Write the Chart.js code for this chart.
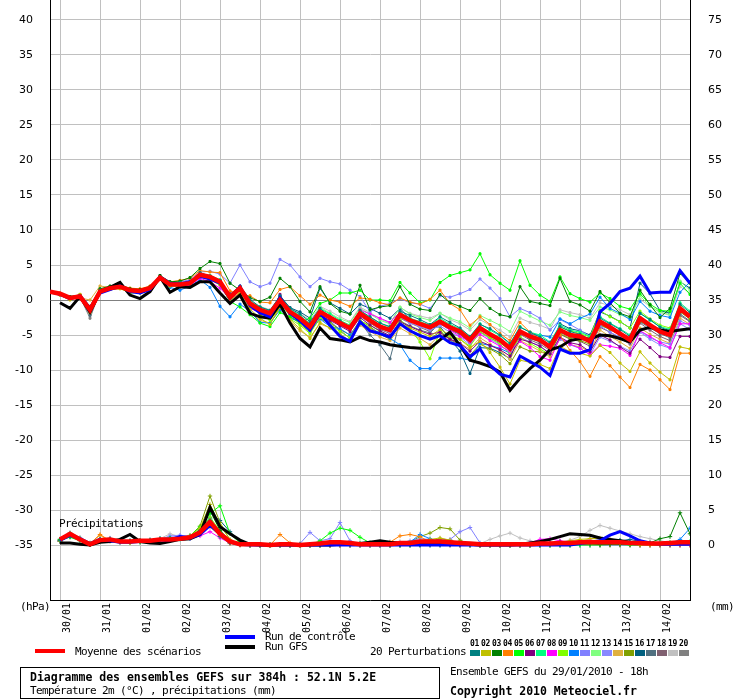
<!DOCTYPE html>
<html>
<head>
<meta charset="utf-8">
<script src="https://cdn.jsdelivr.net/npm/chart.js@4.4.0/dist/chart.umd.min.js"></script>
<style>
  body { margin: 0; background: #fff; }
  #wrap { position: relative; width: 740px; height: 700px; overflow: hidden; }
  #chart { position: absolute; left: 0; top: 0; }
  .t { position: absolute; font-family: "DejaVu Sans Mono", monospace; font-size: 11px; line-height: 12px;
       letter-spacing: -0.62px; white-space: nowrap; color: #000; }
  .b { font-weight: bold; font-size: 11.5px; letter-spacing: 0; }
  .ln { position: absolute; height: 4px; width: 30px; }
  .sw { position: absolute; top: 650px; width: 10px; height: 6px; }
  .sn { position: absolute; top: 640px; font-family: "DejaVu Sans Mono", monospace; font-size: 8px;
        font-weight: bold; line-height: 8px; letter-spacing: -0.3px; }
  #box { position: absolute; left: 20px; top: 667px; width: 418px; height: 30px; border: 1px solid #000; }
</style>
</head>
<body>
<div id="wrap">
  <canvas id="chart" width="740" height="640"></canvas>
  <div class="t" style="left:59px;top:518px">Précipitations</div>
  <div class="t" style="left:20px;top:601px">(hPa)</div>
  <div class="t" style="left:710px;top:601px">(mm)</div>

  <div class="ln" style="left:35px;top:649px;background:#ff0000"></div>
  <div class="t" style="left:75px;top:646px">Moyenne des scénarios</div>
  <div class="ln" style="left:225px;top:635px;background:#0000ff"></div>
  <div class="t" style="left:265px;top:631px">Run de contrôle</div>
  <div class="ln" style="left:225px;top:645px;background:#000000"></div>
  <div class="t" style="left:265px;top:641px">Run GFS</div>
  <div class="t" style="left:370px;top:646px">20 Perturbations</div>
  <div id="swatches"></div>

  <div id="box"></div>
  <div class="t b" style="left:30px;top:671px">Diagramme des ensembles GEFS sur 384h : 52.1N 5.2E</div>
  <div class="t" style="left:30px;top:685px">Température 2m (°C) , précipitations (mm)</div>
  <div class="t" style="left:450px;top:666px">Ensemble GEFS du 29/01/2010 - 18h</div>
  <div class="t b" style="left:450px;top:685px">Copyright 2010 Meteociel.fr</div>
</div>
<script>
// --- axis setup ---
const stepHours = 6;          // one value every 6h, 65 steps = 384h
const firstDayHour = 6;       // 30/01 00h is 6h after the run start
const dayLabels = ['30/01','31/01','01/02','02/02','03/02','04/02','05/02','06/02',
                   '07/02','08/02','09/02','10/02','11/02','12/02','13/02','14/02'];
const tempTicks = [-35,-30,-25,-20,-15,-10,-5,0,5,10,15,20,25,30,35,40];
const rainTicks = [0,5,10,15,20,25,30,35,40,45,50,55,60,65,70,75];
const rainOffset = 35;        // right axis 0 sits on left axis -35

// --- temperature 2m (°C) ---
const tempMean = [1.2,0.9,0.3,0.5,-1.4,1.2,1.7,1.9,1.4,1.3,1.7,3.2,2.2,2.2,2.4,3.6,
  3.3,2.6,0.4,1.7,-0.5,-1.4,-1.9,0.0,-1.7,-2.6,-3.8,-1.7,-2.5,-3.3,-4.0,-1.9,
  -2.9,-3.8,-4.3,-2.1,-2.9,-3.4,-3.9,-3.1,-3.9,-4.5,-5.7,-4.0,-4.9,-5.7,-6.9,-4.5,
  -5.2,-5.7,-6.7,-4.3,-5.0,-5.2,-5.9,-3.1,-3.9,-4.8,-5.7,-2.6,-3.6,-4.5,-5.0,-1.2,-2.4];
const tempControl = [1.2,0.8,0.2,0.6,-1.2,1.0,1.5,2.0,1.2,1.0,1.5,3.3,2.4,2.3,2.6,3.4,
  3.0,2.4,0.2,1.9,-0.8,-1.8,-2.4,0.3,-1.9,-3.0,-4.3,-1.9,-3.6,-5.2,-5.9,-3.1,
  -4.4,-4.8,-5.3,-3.4,-4.4,-5.1,-5.6,-5.1,-6.1,-6.5,-8.1,-7.0,-9.3,-10.6,-11.0,-8.0,
  -8.8,-9.6,-10.8,-7.0,-7.6,-7.6,-7.1,-1.7,-0.5,1.2,1.7,3.4,1.0,1.1,1.1,4.2,2.4];
const tempGfs = [null,-0.4,-1.2,0.5,-1.7,1.2,1.8,2.5,0.7,0.2,1.2,3.3,1.1,1.9,1.8,2.6,
  2.6,1.0,-0.5,0.7,-1.9,-2.4,-2.6,-0.6,-3.3,-5.5,-6.7,-4.0,-5.5,-5.7,-6.0,-5.3,
  -5.8,-6.0,-6.4,-6.6,-6.8,-6.9,-6.9,-5.7,-4.6,-6.5,-8.6,-9.0,-9.5,-10.3,-12.9,-11.2,
  -9.8,-8.6,-7.1,-6.7,-5.8,-5.5,-5.6,-5.0,-5.1,-5.5,-6.0,-4.3,-3.9,-4.3,-4.5,-4.3,-4.1];

const t01 = [1.2,0.8,0.4,0.6,-1.0,1.4,1.8,2.0,1.2,1.0,1.6,3.3,2.4,2.5,2.6,3.9,
  3.4,2.8,0.8,2.0,0.1,-1.0,-1.5,0.6,-1.2,-2.0,-3.1,-1.2,-2.4,-3.0,-3.9,-1.5,
  -2.4,-3.3,-3.8,-1.6,-2.2,-2.8,-3.5,-2.4,-3.2,-4.0,-5.2,-3.5,-4.1,-5.0,-6.2,-3.9,
  -4.6,-5.3,-6.1,-3.8,-4.5,-4.9,-5.6,-2.6,-3.4,-4.2,-5.2,-1.9,-2.8,-3.9,-4.4,-0.6,-1.8];
const t02 = [1.2,0.7,0.0,0.8,-1.8,1.0,1.5,1.6,1.1,1.2,1.5,3.0,2.0,2.1,2.5,3.7,
  3.1,2.2,-0.1,1.1,-1.3,-2.6,-3.5,-1.0,-2.8,-4.1,-5.5,-3.2,-4.0,-5.0,-5.8,-3.2,
  -4.0,-4.8,-5.4,-3.3,-4.0,-4.6,-5.2,-4.2,-5.0,-5.6,-6.8,-5.9,-7.5,-9.6,-12.0,-8.6,
  -8.9,-9.2,-9.8,-6.6,-7.4,-7.6,-8.0,-6.5,-7.5,-9.0,-10.2,-7.4,-9.0,-10.3,-11.4,-6.7,-7.0];
const t03 = [1.2,0.9,0.5,0.7,-0.9,1.6,2.0,2.2,1.6,1.5,1.9,3.5,2.6,2.7,3.2,4.5,
  5.5,5.2,2.4,1.4,0.3,-0.2,0.4,3.1,1.9,-0.2,-1.7,1.9,-0.5,-1.6,-2.0,2.1,
  -1.4,-1.0,-0.8,1.9,-0.6,-1.3,-1.5,0.8,-0.4,-0.9,-1.5,0.2,-1.2,-2.1,-2.4,1.9,
  -0.2,-0.5,-0.8,3.1,-0.2,-0.7,-1.6,1.2,-0.4,-1.9,-2.4,1.4,-0.7,-2.5,-1.2,3.8,2.4];
const t04 = [1.2,1.0,0.4,0.8,-1.1,1.5,1.9,2.1,1.7,1.6,2.0,3.4,2.6,2.8,3.1,4.2,
  4.0,3.9,1.3,0.7,0.6,-0.3,-0.4,1.5,1.9,0.6,-0.6,0.7,0.0,-0.3,-0.9,0.3,
  0.1,-0.4,-0.7,0.3,-0.3,-0.6,0.1,1.4,-0.5,-1.4,-3.6,-2.4,-3.5,-4.8,-5.8,-3.2,
  -4.6,-5.5,-6.6,-5.0,-7.2,-8.8,-10.9,-8.1,-9.4,-11.0,-12.5,-9.2,-10.0,-11.4,-12.8,-7.6,-7.6];
const t05 = [1.2,0.9,0.2,0.6,-1.5,1.2,1.6,1.7,1.0,1.1,1.5,3.1,2.0,2.0,2.3,3.4,
  3.0,2.2,-0.2,-1.0,-2.1,-3.3,-3.8,-1.8,-2.4,-3.2,-2.6,-0.5,0.0,1.0,1.0,1.4,
  0.0,0.0,-0.1,2.5,1.0,-0.4,0.0,2.5,3.5,3.9,4.3,6.6,3.6,2.4,1.4,5.6,
  2.1,0.7,-0.2,3.3,0.9,0.2,-0.3,1.0,0.2,-0.9,-1.3,0.9,-0.6,-1.5,-1.6,2.4,0.8];
const t06 = [1.2,0.8,0.3,0.4,-1.5,1.1,1.6,1.8,1.2,1.2,1.6,3.1,2.2,2.1,2.2,3.3,
  3.0,2.7,0.9,1.3,-1.0,-1.9,-2.1,0.8,-1.9,-2.9,-4.1,-2.2,-2.9,-3.7,-4.5,-2.5,
  -3.6,-4.4,-5.1,-3.1,-3.8,-4.4,-4.9,-4.6,-5.6,-6.2,-7.3,-5.9,-6.5,-7.1,-8.0,-5.6,
  -6.0,-6.6,-7.7,-5.3,-6.1,-6.4,-7.4,-5.0,-5.7,-6.7,-7.6,-5.6,-6.8,-8.1,-8.2,-5.2,-5.2];
const t07 = [1.2,0.9,0.4,0.5,-1.2,1.3,1.8,1.9,1.5,1.4,1.8,3.3,2.3,2.3,2.6,3.8,
  3.5,2.9,0.6,1.9,-0.2,-1.0,-1.5,0.4,-1.3,-2.2,-3.4,-1.2,-2.0,-2.9,-3.6,-1.5,
  -2.5,-3.3,-3.9,-1.8,-2.6,-3.1,-3.6,-2.6,-3.5,-4.1,-5.2,-3.4,-4.3,-5.1,-6.3,-3.8,
  -4.6,-5.0,-6.0,-3.6,-4.3,-4.6,-5.2,-2.4,-3.3,-4.1,-5.0,-1.9,-2.9,-3.8,-4.2,-0.4,-1.6];
const t08 = [1.2,0.8,0.2,0.5,-1.6,1.0,1.6,1.8,1.3,1.2,1.6,3.1,2.1,2.0,2.1,3.1,
  2.6,1.7,0.2,0.9,-1.2,-1.8,-2.5,-0.3,-2.0,-2.9,-4.1,-1.6,-2.5,-3.0,-3.9,-1.4,
  -2.0,-2.6,-3.2,-1.7,-2.8,-3.5,-3.8,-3.3,-4.3,-5.2,-6.0,-4.9,-5.8,-6.6,-7.3,-5.9,
  -6.8,-8.1,-8.6,-5.4,-6.3,-6.9,-7.8,-6.4,-6.6,-6.9,-7.9,-4.4,-5.2,-6.1,-6.8,-3.4,-3.4];
const t09 = [1.2,0.9,0.3,0.5,-1.3,1.2,1.7,1.9,1.4,1.3,1.7,3.4,2.2,2.2,2.4,3.5,
  3.2,2.4,0.2,1.6,-0.7,-2.1,-2.9,-1.0,-2.7,-3.6,-4.8,-2.5,-3.5,-4.5,-5.4,-3.0,
  -3.6,-4.5,-5.3,-2.8,-4.1,-6.0,-8.4,-4.4,-5.4,-5.6,-6.6,-4.6,-5.4,-6.3,-7.6,-5.3,
  -6.2,-7.0,-7.8,-3.9,-4.4,-4.8,-5.3,-1.5,-2.4,-3.1,-4.0,-1.6,-2.7,-3.6,-4.0,-0.8,-2.2];
const t10 = [1.2,0.9,0.2,0.6,-1.6,1.1,1.6,1.8,1.3,1.2,1.7,3.0,1.8,1.4,2.0,2.9,
  1.8,-0.9,-2.4,-0.6,-1.6,-3.2,-3.3,-1.4,-2.6,-3.1,-4.4,-2.7,-3.8,-4.1,-5.0,-3.4,
  -4.0,-4.7,-5.5,-6.4,-8.6,-9.8,-9.8,-8.3,-8.3,-8.3,-8.6,-6.2,-6.5,-6.9,-7.6,-4.8,
  -4.9,-5.0,-5.3,-2.7,-3.4,-2.6,-2.0,0.4,-1.2,-1.9,-2.8,-0.2,-1.6,-2.2,-2.5,1.1,2.6];
const t11 = [1.2,1.0,0.5,0.7,-1.2,1.4,1.9,2.0,1.6,1.5,1.9,3.5,2.5,2.6,2.9,4.0,
  4.1,3.7,2.4,5.0,2.6,1.9,2.4,5.8,5.0,3.3,1.9,3.1,2.6,2.3,1.4,0.5,
  -1.7,-0.9,-0.5,0.2,-0.4,-0.6,-1.2,0.6,0.4,0.9,1.5,3.0,1.7,0.2,-2.4,-1.2,
  -1.8,-2.6,-4.3,-2.8,-3.5,-4.3,-5.2,-3.7,-4.6,-5.3,-6.1,-4.4,-5.4,-6.0,-6.3,-3.0,-3.6];
const t12 = [1.2,0.9,0.5,0.6,-1.1,1.4,1.8,2.0,1.5,1.4,1.8,3.3,2.4,2.4,2.6,3.7,
  3.4,2.7,0.6,1.7,-0.3,-1.1,-1.6,0.3,-1.5,-2.3,-3.4,-1.0,-1.9,-2.7,-3.2,-1.2,
  -2.0,-2.9,-3.4,-1.0,-2.0,-2.5,-2.9,-1.9,-2.6,-3.1,-4.0,-2.2,-2.9,-3.6,-4.5,-1.6,
  -2.3,-3.0,-3.6,-1.7,-2.2,-2.5,-2.9,-1.0,-1.4,-2.1,-2.6,0.6,-0.9,-1.7,-2.1,2.7,1.4];
const t13 = [1.2,0.8,0.3,0.4,-1.3,1.1,1.6,1.8,1.4,1.3,1.7,3.2,2.2,2.3,2.4,3.6,
  3.4,2.6,0.6,1.8,-0.4,-1.3,-1.8,0.3,-1.6,-2.7,-3.8,-1.9,-2.6,-3.6,-4.3,-2.1,
  -3.1,-4.0,-4.6,-2.5,-3.3,-3.8,-4.3,-3.7,-4.6,-5.3,-6.4,-4.6,-5.6,-6.4,-7.6,-5.3,
  -6.0,-6.6,-7.6,-5.6,-6.4,-6.9,-7.8,-5.3,-5.9,-6.6,-7.3,-4.6,-5.6,-6.4,-6.9,-3.4,-4.2];
const t14 = [1.2,0.9,0.1,0.3,0.0,2.0,1.8,1.9,1.3,1.1,1.5,3.1,2.1,2.0,2.2,3.4,
  2.9,2.1,-0.1,1.0,-1.8,-2.9,-3.3,-1.1,-3.0,-4.4,-5.3,-3.4,-4.0,-4.8,-5.9,-3.6,
  -4.5,-5.3,-5.8,-4.0,-4.8,-5.5,-6.4,-4.9,-5.6,-6.2,-7.0,-5.4,-6.3,-7.2,-8.5,-5.8,
  -6.5,-7.3,-8.1,-5.6,-6.4,-6.7,-7.4,-4.3,-5.2,-6.0,-6.9,-4.0,-4.9,-5.6,-6.2,-2.6,-3.5];
const t15 = [1.2,0.9,0.3,0.5,-1.4,1.2,1.6,1.8,1.5,1.4,1.6,3.1,2.2,2.1,2.3,3.5,
  3.3,2.5,0.3,1.5,-0.8,-1.8,-2.4,-0.3,-2.3,-3.4,-4.6,-2.7,-3.3,-4.2,-5.0,-2.9,
  -3.8,-4.9,-5.6,-3.4,-4.3,-5.0,-5.5,-4.6,-5.6,-6.5,-7.9,-6.3,-7.0,-7.8,-9.1,-6.7,
  -7.3,-7.4,-7.6,-4.8,-5.5,-5.8,-6.3,-3.6,-4.2,-5.0,-5.7,-3.0,-3.8,-4.6,-5.1,-1.7,-2.7];
const t16 = [1.2,0.8,0.2,0.5,-1.4,1.1,1.7,1.9,1.4,1.3,1.6,3.3,2.3,2.4,2.5,3.7,
  3.4,2.8,0.7,1.9,-0.4,-1.3,-1.7,0.6,-1.1,-1.7,-2.6,1.7,-0.4,-1.2,-2.0,-0.6,
  -1.2,-1.9,-2.6,-1.2,-2.7,-3.4,-4.0,-3.8,-5.6,-7.3,-10.5,-6.8,-6.9,-7.5,-8.4,-4.7,
  -5.2,-5.9,-6.6,-3.4,-4.1,-4.4,-5.0,-1.7,-2.3,-3.1,-4.0,2.4,0.9,-1.5,-1.9,2.6,1.7];
const t17 = [1.2,0.7,0.1,0.4,-2.2,1.0,1.5,1.7,1.2,1.1,1.5,3.0,2.0,2.0,2.1,3.4,
  3.1,2.3,0.1,1.4,-0.9,-1.8,-2.2,-0.2,-2.1,-3.0,-4.2,-2.2,-3.0,-4.3,-5.5,-3.2,
  -5.0,-6.4,-8.4,-3.0,-3.7,-4.3,-4.7,-3.3,-4.1,-4.9,-6.1,-4.2,-5.0,-5.8,-7.1,-4.7,
  -5.5,-6.0,-7.0,-4.6,-5.3,-5.4,-6.1,-3.5,-4.2,-5.0,-5.9,-3.1,-4.0,-4.8,-5.4,-2.0,-3.0];
const t18 = [1.2,0.8,0.2,0.4,-1.5,1.1,1.6,1.8,1.3,1.2,1.6,3.1,2.1,2.1,2.3,3.5,
  3.2,2.5,0.3,1.6,-0.7,-1.6,-2.2,-0.2,-2.0,-2.9,-4.0,-2.0,-2.7,-3.4,-4.2,-2.3,
  -3.3,-4.2,-4.8,-2.6,-3.3,-3.9,-4.5,-3.4,-4.3,-4.9,-6.2,-4.5,-5.4,-6.1,-7.2,-4.9,
  -5.7,-6.3,-7.2,-4.9,-5.6,-5.9,-6.6,-3.9,-4.6,-5.5,-6.3,-3.3,-4.3,-5.2,-5.8,-2.2,-3.1];
const t19 = [1.2,1.0,0.4,0.5,-1.3,1.3,1.8,2.0,1.5,1.5,1.9,3.4,2.4,2.4,2.6,3.8,
  3.5,2.8,0.7,2.0,-0.1,-0.9,-1.4,0.5,-1.1,-1.9,-2.9,-0.9,-1.6,-2.4,-3.1,-1.0,
  -1.8,-2.7,-3.3,-1.1,-1.9,-2.3,-2.6,-1.9,-2.8,-3.4,-4.3,-2.8,-3.6,-4.3,-5.3,-2.6,
  -3.2,-3.6,-4.2,-1.4,-1.8,-2.1,-2.6,-0.4,-0.8,-1.4,-2.1,0.1,-0.9,-1.8,-2.2,1.9,1.0];
const t20 = [1.2,0.9,0.3,0.4,-2.6,1.2,1.7,1.9,1.4,1.3,1.7,3.2,2.2,2.3,2.4,3.5,
  3.3,2.7,0.5,1.7,-0.6,-1.5,-2.0,-0.1,-1.8,-2.7,-3.9,-1.8,-2.6,-3.4,-4.1,-1.9,
  -2.9,-3.7,-4.2,-2.2,-3.0,-3.6,-4.2,-3.2,-4.0,-4.6,-5.8,-4.1,-5.0,-5.8,-7.0,-4.4,
  -5.2,-5.6,-6.5,-4.2,-4.9,-5.1,-5.8,-3.0,-3.8,-4.6,-5.5,-2.5,-3.5,-4.3,-4.8,-1.0,-2.2];

// --- precipitation (mm / 6h) ---
const rainMean = [null,0.8,1.6,0.8,0.1,0.7,0.8,0.5,0.5,0.6,0.6,0.8,0.8,0.9,1.1,1.8,
  3.3,1.6,0.5,0.1,0.1,0.1,0.0,0.1,0.1,0.0,0.1,0.2,0.4,0.4,0.3,0.1,
  0.1,0.1,0.1,0.3,0.3,0.5,0.5,0.5,0.4,0.3,0.2,0.1,0.1,0.1,0.1,0.1,
  0.1,0.2,0.2,0.3,0.3,0.4,0.4,0.4,0.4,0.4,0.3,0.3,0.2,0.2,0.3,0.4,0.4];
const rainControl = [null,0.7,1.4,0.9,0.2,0.8,0.6,0.4,0.4,0.5,0.6,0.7,0.7,1.2,1.0,1.5,
  2.8,1.6,0.4,0.1,0,0,0,0,0,0,0,0,0,0,0,0,
  0,0,0,0,0,0,0,0,0,0,0,0,0,0,0,0,
  0,0,0,0,0,0.2,0.4,0.6,1.4,1.9,1.3,0.6,0.3,0.1,0.1,0.1,0.1];
const rainGfs = [null,0.3,0.3,0.1,0.0,0.4,0.5,0.8,1.5,0.5,0.3,0.2,0.5,0.8,0.9,1.5,
  5.4,2.6,1.6,0.7,0.1,0,0,0,0,0,0,0,0,0.1,0.1,0.2,
  0.4,0.6,0.4,0.3,0.2,0.2,0.1,0.1,0.1,0.1,0.1,0,0,0,0,0.1,
  0.3,0.5,0.8,1.2,1.6,1.5,1.4,1.0,0.8,0.6,0.4,0.3,0.2,0.2,0.3,0.4,0.4];

const r01 = [null,0.6,1.2,0.7,0.1,0.6,0.9,0.5,0.4,0.5,0.6,0.8,0.9,1.0,1.2,2.0,
  3.5,1.2,0.3,0.1,0,0,0,0,0,0,0,0.1,0.3,0.2,0,0,
  0,0,0,0,0,0,0,0,0,0,0,0,0,0,0,0,
  0,0,0.2,0.3,0.3,0.2,0.2,0.3,0.6,0.7,0.5,0.3,0.2,0.1,0.1,0.2,0.3];
const r02 = [null,0.5,1.5,0.9,0.2,0.6,0.7,0.6,0.3,0.5,0.6,0.7,0.8,1.0,1.3,2.4,
  5.8,2.8,0.8,0.1,0,0,0,0,0,0,0,0,0,0,0,0,
  0,0.1,0.2,0.2,0.4,0.6,0.8,1.0,0.7,0.2,0,0,0,0,0,0,
  0,0,0.1,0.3,0.6,0.8,0.9,0.9,0.6,0.3,0.2,0.1,0,0,0.1,0.2,0.4];
const r03 = [null,0.7,1.3,0.8,0.1,0.8,0.7,0.5,0.5,0.6,0.5,0.7,0.9,0.9,1.1,2.2,
  4.9,2.1,0.6,0.2,0,0,0,0,0,0,0,0,0,0.1,0.2,0.3,
  0.2,0.1,0,0,0,0.1,0.2,0.3,0.4,0.2,0.1,0,0,0,0,0,
  0,0,0,0.1,0.1,0.2,0.2,0.1,0.1,0.1,0.1,0.2,0.3,0.9,1.2,4.6,1.6];
const r04 = [null,0.6,1.4,0.8,0.2,1.5,0.6,0.5,0.4,0.5,0.5,0.8,0.7,0.9,1.2,1.7,
  2.6,1.3,0.2,0,0,0,0,1.5,0.3,0,0,0,0,0,0,0.1,
  0.2,0.3,0.4,1.3,1.5,1.2,0.4,0.2,0.1,0,0,0,0,0,0,0,
  0,0,0.1,0.2,0.3,0.3,0.2,0.2,0.1,0.1,0.1,0,0,0,0,0,0];
const r05 = [null,0.8,1.1,0.6,0.1,0.5,0.8,0.6,0.5,0.4,0.6,0.7,0.9,1.1,1.3,2.6,
  4.5,5.6,1.6,0.3,0,0,0,0,0,0,0,0.6,1.7,2.4,2.1,1.1,
  0.3,0.1,0,0,0,0.1,0.3,0.4,0.2,0.1,0,0,0,0,0,0,
  0,0,0,0,0,0.1,0.1,0.1,0.1,0.1,0,0,0.1,0.2,0.3,0.3,0.3];
const r06 = [null,0.5,1.5,0.7,0.1,0.6,0.7,0.4,0.5,0.6,0.6,0.8,0.7,0.9,1.0,1.6,
  3.0,1.6,0.4,0.1,0,0,0,0,0,0,0,0,0,0,0,0,
  0,0,0,0.1,0.2,0.3,0.3,0.2,0.1,0,0,0,0,0,0,0,
  0,0.1,0.3,0.5,0.4,0.3,0.2,0.1,0.1,0.1,0.1,0,0,0,0,0.1,0.1];
const r07 = [null,0.7,1.7,0.9,0.2,0.7,0.8,0.4,0.6,0.5,0.7,0.9,1.0,0.8,1.1,1.9,
  3.6,1.9,0.5,0.1,0,0,0,0,0,0,0,0,0.1,0.2,0.1,0,
  0,0,0,0,0,0,0,0,0.1,0.2,0.1,0,0,0,0,0,
  0,0,0,0,0,0,0.1,0.2,0.2,0.2,0.2,0.2,0.2,0.2,0.3,0.4,0.5];
const r08 = [null,0.6,1.3,0.8,0.1,0.6,0.9,0.6,0.5,0.5,0.6,0.6,0.8,0.9,1.0,1.3,
  1.9,1.0,0.3,0,0,0,0,0,0,0,0,0,0,0,0,0,
  0,0,0,0,0,0,0,0,0,0,0,0,0,0,0,0,
  0.3,0.8,0.9,0.6,0.4,0.6,0.7,0.5,0.3,0.2,0.1,0,0,0,0,0,0];
const r09 = [null,0.7,1.5,0.8,0.1,0.7,0.7,0.5,0.4,0.6,0.6,0.7,0.8,1.0,1.2,2.1,
  4.0,2.0,0.5,0.1,0,0,0,0,0,0,0,0,0,0,0,0,
  0,0,0,0,0,0,0.2,0.3,0.2,0.1,0,0,0,0,0,0,
  0,0,0,0,0,0,0,0,0.1,0.2,0.2,0.2,0.1,0.1,0.1,0.2,0.2];
const r10 = [null,0.5,1.2,0.7,0.1,0.8,0.6,0.4,0.5,0.5,0.7,0.9,1.0,1.1,0.9,1.8,
  3.2,1.5,0.3,0.1,0,0,0,0,0,0,0,0,0,0,0,0,
  0,0,0,0.1,0.4,1.5,0.9,0.4,0.2,0,0,0,0,0,0,0,
  0,0,0,0,0,0,0,0,0.1,0.3,0.4,0.3,0.2,0.1,0.2,0.8,2.4];
const r11 = [null,0.6,1.6,1.0,0.2,0.7,0.6,0.5,0.6,0.6,0.7,0.8,1.1,1.3,1.3,2.0,
  3.7,1.8,0.4,0.1,0,0,0,0,0,0.2,1.8,0.6,0.9,3.2,0.6,0.1,
  0,0,0,0,0,0,0,0,0.8,1.9,2.5,0.3,0,0,0,0,
  0,0,0,0,0,0,0,0,0,0,0,0,0,0,0,0,0];
const r12 = [null,0.7,1.4,0.9,0.2,0.6,0.8,0.5,0.5,0.6,0.6,0.8,0.9,1.0,1.2,1.8,
  3.0,1.5,0.4,0.1,0,0,0,0,0,0,0,0,0,0,0,0,
  0,0,0,0,0,0,0,0,0,0,0,0,0,0,0,0,
  0,0,0,0,0,0,0,0,0,0,0,0.1,0.2,0.3,0.4,0.4,0.5];
const r13 = [null,0.6,1.3,0.8,0.1,0.6,0.8,0.7,0.5,0.5,0.6,0.8,1.3,1.4,1.2,2.0,
  3.4,1.3,0.3,0,0,0,0,0,0,0,0,0,0,0,0,0,
  0,0,0,0.3,0.6,0.9,0.8,0.5,0.1,0,0,0,0,0,0,0,
  0,0,0.1,0.2,0.3,0.3,0.3,0.2,0.2,0.1,0,0,0,0,0,0,0];
const r14 = [null,0.6,1.2,0.8,0.2,1.4,0.5,0.4,0.5,0.5,0.6,0.7,0.8,0.9,1.0,1.5,
  2.8,1.4,0.3,0,0,0,0,0,0,0,0,0,0,0,0,0,
  0,0,0,0,0,0,0,0,0,0,0,0,0,0,0,0,
  0,0,0.1,0.2,0.3,0.5,0.9,1.0,0.9,0.6,0.3,0.1,0.1,0.1,0.1,0,0];
const r15 = [null,0.7,1.4,0.8,0.2,0.6,0.7,0.5,0.4,0.5,0.6,0.7,0.8,1.0,1.3,2.7,
  7.0,3.2,0.7,0.1,0,0,0,0,0,0,0,0,0,0,0,0,
  0,0,0,0,0.4,1.2,1.7,2.5,2.3,0.7,0.1,0,0,0,0,0,
  0,0,0,0,0,0,0,0,0,0,0,0,0,0,0,0,0];
const r16 = [null,0.6,1.3,0.9,0.1,0.7,0.7,0.5,0.5,0.6,0.6,0.7,0.8,0.9,1.1,2.2,
  4.6,3.5,1.9,0.5,0.1,0,0,0,0,0,0,0,0,0,0,0,
  0,0,0,0,0,0,0,0,0,0,0,0,0,0,0,0,
  0,0,0,0,0,0,0,0,0.3,0.6,0.8,0.5,0.3,0.2,0.1,0.1,0.2];
const r17 = [null,0.5,1.4,0.8,0.1,0.7,0.6,0.5,0.6,0.4,0.6,0.8,0.8,0.9,1.1,1.9,
  3.9,1.7,0.4,0.1,0,0,0,0,0,0,0,0,0,0,0,0.1,
  0.3,0.2,0.1,0,0.1,0.4,0.6,0.7,0.5,0.3,0.1,0,0,0,0,0,
  0,0,0,0,0,0,0,0,0,0,0,0,0,0,0,0,0];
const r18 = [null,0.6,1.5,0.9,0.2,0.6,0.6,0.6,0.5,0.5,0.7,0.9,1.0,1.0,1.2,2.0,
  3.8,1.5,0.4,0.1,0,0,0,0,0,0,0,0,0,0,0,0,
  0,0,0,0,0.2,0.3,0.5,0.9,0.7,0.2,0,0,0,0,0,0,
  0,0,0,0,0,0,0,0,0,0,0,0,0,0,0,0,0];
const r19 = [null,0.9,1.8,1.1,0.3,0.9,1.0,0.6,0.5,0.6,0.8,0.9,1.6,1.2,1.4,1.6,
  3.1,1.2,0.3,0,0,0,0,0,0,0,0,0,0,0,0,0.1,
  0.3,0.4,0.5,0.5,0.4,0.3,0.2,0.1,0,0,0,0.2,0.8,1.3,1.7,1.0,
  0.6,0.3,0.2,0.4,0.7,1.2,2.1,2.8,2.4,2.0,1.6,1.2,0.9,0.6,0.4,0.3,0.2];
const r20 = [null,0.8,1.7,1.0,0.3,0.8,0.9,0.6,0.6,0.6,0.7,0.9,1.0,1.1,1.2,1.9,
  3.3,1.4,0.4,0.1,0,0,0,0,0,0,0,0,0,0,0,0,
  0,0,0,0,0,0,0,0,0,0,0,0,0,0,0,0,
  0,0,0.1,0.2,0.3,0.3,0.2,0.2,0.2,0.2,0.2,0.2,0.2,0.2,0.2,0.2,0.2];

const memberColors = ['#008080','#c0c000','#008000','#ff8000','#00ff00','#800080','#00ff80',
  '#ff00ff','#80ff00','#0080ff','#8080ff','#80ff80','#8888ff','#e0b040','#80a000',
  '#006080','#507080','#806070','#c0c0c0','#808080'];
const tempMembers = [t01,t02,t03,t04,t05,t06,t07,t08,t09,t10,t11,t12,t13,t14,t15,t16,t17,t18,t19,t20];
const rainMembers = [r01,r02,r03,r04,r05,r06,r07,r08,r09,r10,r11,r12,r13,r14,r15,r16,r17,r18,r19,r20];

// legend swatches
const sw = document.getElementById('swatches');
memberColors.forEach((c, i) => {
    const x = 470 + i * 11;
    const num = String(i + 1).padStart(2, '0');
    sw.insertAdjacentHTML('beforeend',
        `<div class="sw" style="left:${x}px;background:${c}"></div>` +
        `<div class="sn" style="left:${x}px">${num}</div>`);
});

function toXY(arr) {
    return arr.map((v, i) => ({ x: i * stepHours, y: v }));
}

function lineSet(arr, color, axis, width, order, marker) {
    return {
        data: toXY(arr),
        yAxisID: axis,
        borderColor: color,
        backgroundColor: color,
        borderWidth: width,
        pointRadius: marker ? (marker === 'cross' ? 2.2 : 1.4) : 0,
        pointStyle: marker || 'circle',
        pointBorderWidth: 1,
        pointHoverRadius: 0,
        tension: 0,
        spanGaps: false,
        order: order
    };
}

const datasets = [];
datasets.push(lineSet(tempMean, '#ff0000', 'y', 4.5, 0));
datasets.push(lineSet(rainMean, '#ff0000', 'y2', 4.5, 0));
datasets.push(lineSet(tempControl, '#0000ff', 'y', 3, 1));
datasets.push(lineSet(rainControl, '#0000ff', 'y2', 3, 1));
datasets.push(lineSet(tempGfs, '#000000', 'y', 3, 2));
datasets.push(lineSet(rainGfs, '#000000', 'y2', 3, 2));
tempMembers.forEach((arr, i) => datasets.push(lineSet(arr, memberColors[i], 'y', 1, 3 + i, 'rect')));
rainMembers.forEach((arr, i) => datasets.push(lineSet(arr, memberColors[i], 'y2', 1, 3 + i, 'cross')));

const half = 300 / 7;   // 7 px per unit over a 600 px plot
const mono = "'DejaVu Sans Mono', monospace";
const sans = "'DejaVu Sans', sans-serif";

new Chart(document.getElementById('chart'), {
    type: 'line',
    data: { datasets },
    options: {
        responsive: false,
        animation: false,
        events: [],
        layout: { padding: 0, autoPadding: false },
        plugins: { legend: { display: false }, tooltip: { enabled: false } },
        scales: {
            x: {
                type: 'linear', min: 0, max: 384,
                afterBuildTicks: s => { s.ticks = dayLabels.map((d, i) => ({ value: firstDayHour + i * 24 })); },
                afterFit: s => { s.height = 40; s.paddingLeft = 0; s.paddingRight = 0; },
                grid: { color: '#c0c0c0', lineWidth: 1, drawTicks: false },
                border: { color: '#000', width: 1 },
                ticks: {
                    autoSkip: false, minRotation: 90, maxRotation: 90, padding: 3, labelOffset: 7,
                    color: '#000', font: { family: mono, size: 10 },
                    callback: (v, i) => dayLabels[i]
                }
            },
            y: {
                position: 'left', min: -half, max: half,
                afterBuildTicks: s => { s.ticks = tempTicks.map(v => ({ value: v })); },
                afterFit: s => { s.width = 50; s.paddingTop = 0; s.paddingBottom = 0; },
                grid: { color: c => (c.tick && c.tick.value === 0) ? '#808080' : '#c0c0c0', lineWidth: 1, drawTicks: false },
                border: { color: '#000', width: 1 },
                ticks: { padding: 17, color: '#000', font: { family: sans, size: 11 } }
            },
            y2: {
                position: 'right', min: rainOffset - half, max: rainOffset + half,
                afterBuildTicks: s => { s.ticks = rainTicks.map(v => ({ value: v })); },
                afterFit: s => { s.width = 50; s.paddingTop = 0; s.paddingBottom = 0; },
                grid: { drawOnChartArea: false, drawTicks: false },
                border: { color: '#000', width: 1 },
                ticks: { padding: 18, color: '#000', font: { family: sans, size: 11 } }
            }
        }
    }
});
</script>
</body>
</html>
